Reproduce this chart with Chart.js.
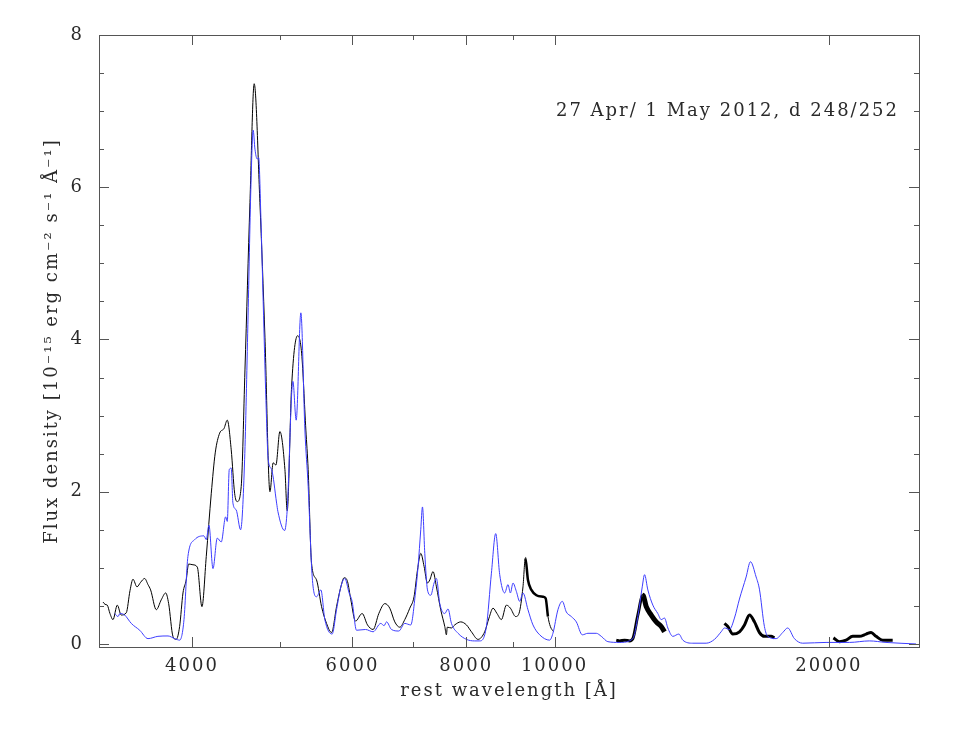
<!DOCTYPE html>
<html>
<head>
<meta charset="utf-8">
<script src="https://cdn.jsdelivr.net/npm/chart.js@4.4.1/dist/chart.umd.min.js"></script>
<style>
  html, body { margin: 0; padding: 0; background: #fff; }
  #wrap { width: 977px; height: 730px; }
</style>
</head>
<body>
<div id="wrap"><canvas id="spec" width="977" height="730"></canvas></div>
<script>
// observed spectrum, optical part (black)
const optWave = [3195, 3211, 3229, 3251, 3276, 3312, 3345, 3388, 3420, 3446, 3481, 3513, 3549, 3579, 3603,
  3655, 3701, 3743, 3771, 3812, 3844, 3877, 3910, 3942, 3966, 4010, 4054, 4102, 4147, 4200,
  4242, 4290, 4337, 4373, 4417, 4455, 4484, 4530, 4573, 4631, 4681, 4749, 4810, 4871, 4911,
  4945, 4995, 5059, 5088, 5145, 5224, 5277, 5334, 5365, 5411, 5480, 5550, 5620, 5692, 5764,
  5827, 5876, 5926, 5976, 6047, 6149, 6233, 6322, 6414, 6512, 6594, 6678, 6763, 6849, 6936,
  7011, 7072, 7131, 7191, 7252, 7295, 7356, 7419, 7500, 7577, 7609, 7625, 7706, 7770, 7889,
  8004, 8105, 8241, 8382, 8473, 8560, 8646, 8743, 8854, 8944, 9064, 9140, 9233, 9289, 9350,
  9431, 9551, 9711, 9778, 9835, 9894, 9977];
const optFlux = [0.55, 0.52, 0.51, 0.40, 0.32, 0.51, 0.38, 0.41, 0.70, 0.85, 0.75, 0.81, 0.86, 0.78, 0.71,
  0.45, 0.58, 0.67, 0.53, 0.10, 0.06, 0.23, 0.67, 0.84, 1.05, 1.04, 1.01, 0.49, 1.15, 1.98,
  2.51, 2.77, 2.83, 2.94, 2.55, 1.98, 1.87, 2.07, 3.60, 5.80, 7.36, 5.80, 4.03, 2.00, 2.38,
  2.35, 2.79, 2.29, 1.75, 3.38, 4.05, 3.82, 2.81, 2.29, 1.06, 0.84, 0.49, 0.27, 0.15, 0.49,
  0.75, 0.87, 0.82, 0.58, 0.30, 0.40, 0.25, 0.19, 0.40, 0.53, 0.47, 0.29, 0.22, 0.32, 0.47,
  0.62, 0.97, 1.19, 1.02, 0.80, 0.84, 0.95, 0.75, 0.45, 0.23, 0.12, 0.22, 0.21, 0.25, 0.29,
  0.25, 0.16, 0.06, 0.16, 0.34, 0.47, 0.40, 0.32, 0.51, 0.47, 0.36, 0.40, 0.75, 1.13, 0.84,
  0.71, 0.64, 0.62, 0.60, 0.36, 0.23, 0.16];

// observed NIR pieces (black)
const jWave = [11688, 11787, 11936, 12088, 12189, 12343, 12500, 12608, 12768, 12930, 13094, 13204];
const jFlux = [0.05, 0.04, 0.05, 0.04, 0.07, 0.38, 0.64, 0.49, 0.38, 0.29, 0.23, 0.16];
const hWave = [15365, 15494, 15691, 15958, 16161, 16367, 16574, 16785, 16998, 17288, 17433];
const hFlux = [0.27, 0.23, 0.13, 0.16, 0.25, 0.38, 0.29, 0.15, 0.10, 0.10, 0.08];
const kWave = [20234, 20543, 20893, 21244, 21607, 21976, 22255, 22537, 22916, 23503];
const kFlux = [0.08, 0.03, 0.05, 0.10, 0.10, 0.13, 0.15, 0.10, 0.05, 0.05];

// model spectrum (blue)
const modelWave = [3290, 3318, 3334, 3374, 3431, 3505, 3579, 3670, 3765, 3829, 3878, 3920, 3959, 4027, 4123,
  4147, 4175, 4218, 4264, 4307, 4355, 4373, 4395, 4417, 4436, 4473, 4523, 4569, 4607, 4642,
  4669, 4690, 4717, 4734, 4761, 4789, 4822, 4850, 4892, 4954, 4970, 5055, 5088, 5162, 5205,
  5267, 5321, 5365, 5420, 5480, 5540, 5596, 5700, 5764, 5827, 5886, 5950, 5995, 6062, 6202,
  6322, 6446, 6500, 6540, 6623, 6746, 6849, 6953, 7036, 7083, 7131, 7162, 7204, 7253, 7314,
  7375, 7419, 7482, 7577, 7640, 7706, 7836, 8004, 8173, 8277, 8418, 8525, 8618, 8706, 8816,
  8890, 8944, 9003, 9080, 9156, 9233, 9350, 9469, 9631, 9877, 9959, 10086, 10198, 10302, 10433,
  10565, 10727, 10880, 11113, 11254, 11443, 11787, 12189, 12343, 12481, 12554, 12659, 12820, 12982, 13094,
  13204, 13315, 13484, 13690, 13829, 14182, 14670, 14980, 15236, 15364, 15559, 15756, 15956, 16228, 16406,
  16643, 16782, 16995, 17138, 17506, 17799, 18026, 18333, 18721, 19861, 21064, 22153, 23109, 24932];
const modelFlux = [0.40, 0.36, 0.40, 0.38, 0.27, 0.18, 0.07, 0.10, 0.105, 0.07, 0.05, 0.32, 1.15, 1.37, 1.42,
  1.37, 1.56, 0.99, 1.39, 1.34, 1.67, 1.61, 2.29, 2.31, 1.85, 1.76, 1.50, 2.42, 4.20, 6.00,
  6.75, 6.50, 6.37, 6.39, 5.60, 4.48, 3.20, 2.42, 2.29, 1.85, 1.74, 1.49, 1.76, 3.45, 2.94,
  4.35, 2.81, 2.07, 0.88, 0.62, 0.71, 0.32, 0.13, 0.45, 0.75, 0.86, 0.67, 0.56, 0.18, 0.19,
  0.16, 0.27, 0.24, 0.29, 0.19, 0.17, 0.27, 0.25, 0.67, 1.02, 1.50, 1.80, 1.19, 0.71, 0.64,
  0.80, 0.86, 0.53, 0.40, 0.46, 0.27, 0.14, 0.06, 0.04, 0.04, 0.23, 0.93, 1.45, 0.91, 0.67,
  0.78, 0.67, 0.80, 0.69, 0.56, 0.67, 0.45, 0.25, 0.12, 0.05, 0.14, 0.45, 0.56, 0.42, 0.36,
  0.29, 0.12, 0.14, 0.14, 0.10, 0.03, 0.02, 0.07, 0.36, 0.75, 0.91, 0.71, 0.51, 0.40, 0.32,
  0.34, 0.21, 0.10, 0.13, 0.05, 0.01, 0.01, 0.06, 0.16, 0.21, 0.19, 0.34, 0.59, 0.88, 1.08,
  0.88, 0.72, 0.23, 0.10, 0.07, 0.15, 0.21, 0.07, 0.01, 0.02, 0.02, 0.04, 0.02, 0.00];

const xMajorTicks = [4000, 6000, 8000, 10000, 20000];
const xMinorTicks = [5000, 7000, 9000];
const yMajorTicks = [0, 2, 4, 6, 8];
const yMinorTicks = [0.5, 1, 1.5, 2.5, 3, 3.5, 4.5, 5, 5.5, 6.5, 7, 7.5];

const epochLabel = "27 Apr/ 1 May 2012, d 248/252";

const FONT = "'DejaVu Serif', 'Liberation Serif', serif";
const TEXT_COLOR = "#2a2a2a";
const AXIS_COLOR = "#555";
const SPACING = "2px"; // the plot's stroke font is wide, so spread the letters a bit

function pairs(wave, flux) {
  return wave.map((w, i) => ({ x: w, y: flux[i] }));
}

// frame with inward ticks on all four sides, plus the epoch label
const framePlugin = {
  id: "frame",
  beforeDraw(chart) {
    chart.ctx.letterSpacing = SPACING;
  },
  afterDraw(chart) {
    const { ctx, chartArea: a, scales } = chart;
    ctx.save();
    ctx.strokeStyle = AXIS_COLOR;
    ctx.lineWidth = 1;
    ctx.strokeRect(a.left + 0.5, a.top + 0.5, a.right - a.left, a.bottom - a.top);

    ctx.beginPath();
    const xt = (list, len) => list.forEach(v => {
      const px = Math.round(scales.x.getPixelForValue(v)) + 0.5;
      ctx.moveTo(px, a.bottom); ctx.lineTo(px, a.bottom - len);
      ctx.moveTo(px, a.top); ctx.lineTo(px, a.top + len);
    });
    const yt = (list, len) => list.forEach(v => {
      const py = Math.round(scales.y.getPixelForValue(v)) + 0.5;
      ctx.moveTo(a.left, py); ctx.lineTo(a.left + len, py);
      ctx.moveTo(a.right, py); ctx.lineTo(a.right - len, py);
    });
    xt(xMajorTicks, 10); xt(xMinorTicks, 5);
    yt(yMajorTicks, 10); yt(yMinorTicks, 5);
    ctx.stroke();

    ctx.letterSpacing = SPACING;
    ctx.fillStyle = TEXT_COLOR;
    ctx.font = "18px " + FONT;
    ctx.textAlign = "right";
    ctx.textBaseline = "middle";
    ctx.fillText(epochLabel, a.right - 20, a.top + 76);
    ctx.restore();
  }
};

const blackLine = { borderColor: "#000", borderWidth: 1, pointRadius: 0, fill: false, cubicInterpolationMode: "monotone" };

new Chart(document.getElementById("spec"), {
  type: "line",
  data: {
    datasets: [
      { label: "model", data: pairs(modelWave, modelFlux),
        borderColor: "#3d3dff", borderWidth: 1, pointRadius: 0, fill: false, cubicInterpolationMode: "monotone" },
      Object.assign({}, blackLine, { label: "optical", data: pairs(optWave, optFlux),
        segment: { borderWidth: c => (c.p0.parsed.x > 9280 && c.p0.parsed.x < 9800 ? 2.5 : 1) } }),
      Object.assign({}, blackLine, { label: "J", data: pairs(jWave, jFlux),
        segment: { borderWidth: c => (c.p0.parsed.x > 12450 ? 5 : 3) } }),
      Object.assign({}, blackLine, { label: "H", data: pairs(hWave, hFlux), borderWidth: 3 }),
      Object.assign({}, blackLine, { label: "K", data: pairs(kWave, kFlux), borderWidth: 3 })
    ]
  },
  options: {
    responsive: false,
    animation: false,
    layout: { padding: { top: 35, right: 58, left: 0, bottom: 0 } },
    plugins: { legend: { display: false }, tooltip: { enabled: false } },
    scales: {
      x: {
        type: "logarithmic",
        min: 3162.3,
        max: 25119,
        grid: { display: false },
        border: { display: false },
        afterBuildTicks: s => { s.ticks = xMajorTicks.map(v => ({ value: v })); },
        afterFit: s => { s.height = 83; },
        ticks: {
          autoSkip: false, maxRotation: 0, padding: 1,
          color: TEXT_COLOR, font: { family: FONT, size: 18 },
          callback: v => String(v)
        },
        title: {
          display: true, text: "rest wavelength [Å]", color: TEXT_COLOR,
          font: { family: FONT, size: 18 }, padding: { top: 0, bottom: 28 }
        }
      },
      y: {
        min: -0.04,
        max: 8,
        grid: { display: false },
        border: { display: false },
        afterBuildTicks: s => { s.ticks = yMajorTicks.map(v => ({ value: v })); },
        afterFit: s => { s.width = 99; },
        ticks: {
          padding: 7, color: TEXT_COLOR, font: { family: FONT, size: 18 },
          callback: v => String(v)
        },
        title: {
          display: true, text: "Flux density [10⁻¹⁵ erg cm⁻² s⁻¹ Å⁻¹]", color: TEXT_COLOR,
          font: { family: FONT, size: 18 }, padding: { top: 42, bottom: 0 }
        }
      }
    }
  },
  plugins: [framePlugin]
});
</script>
</body>
</html>
